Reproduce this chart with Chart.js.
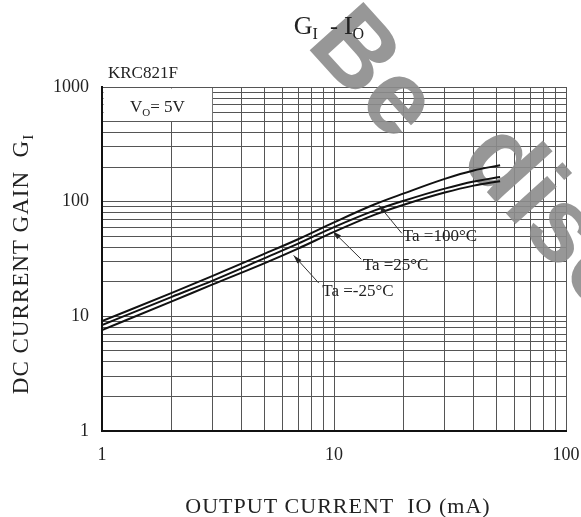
<!DOCTYPE html>
<html>
<head>
<meta charset="utf-8">
<script src="https://cdn.jsdelivr.net/npm/chart.js@4"></script>
<style>
  html, body { margin: 0; padding: 0; background: #fff; }
  canvas { display: block; }
</style>
</head>
<body>
<canvas id="giChart" width="581" height="517"></canvas>
<script>
// output current (mA) where the curves were read
const currentMA = [1, 2, 3, 5, 7, 10, 15, 20, 30, 40, 52];
// DC current gain for each ambient temperature
const gain100 = [9.1, 16, 22.5, 35, 47, 66, 95, 118, 158, 187, 208];
const gain25 = [8.4, 14.8, 20.5, 32, 43, 60, 84, 102, 130, 150, 164];
const gainM25 = [7.6, 13.5, 19, 29, 39, 54.5, 77, 94, 120, 138, 151];

const seriesNames = ['Ta =100°C', 'Ta =25°C', 'Ta =-25°C'];

// log grid lines and the labelled decades
const xGrid = [1, 2, 3, 4, 5, 6, 7, 8, 9, 10, 20, 30, 40, 50, 60, 70, 80, 90, 100];
const yGrid = [1, 2, 3, 4, 5, 6, 7, 8, 9, 10, 20, 30, 40, 50, 60, 70, 80, 90,
    100, 200, 300, 400, 500, 600, 700, 800, 900, 1000];
const xLabels = [1, 10, 100];
const yLabels = [1, 10, 100, 1000];

// callouts: label position, leader start, arrow tip (data units)
const calloutLabel = [[19.8, 50], [13.3, 28], [8.9, 16.3]];
const calloutFrom = [[19.6, 53], [13.1, 31.5], [8.6, 19.5]];
const calloutTip = [[15.6, 93], [9.9, 55], [6.7, 34]];

const serif = '"Liberation Serif", "DejaVu Serif", serif';

function toPoints(ys) {
    return currentMA.map((x, i) => ({x: x, y: ys[i]}));
}

function curve(label, ys) {
    return {
        label: label,
        data: toPoints(ys),
        borderColor: '#111',
        borderWidth: 2,
        pointRadius: 0,
        fill: false,
        cubicInterpolationMode: 'monotone'
    };
}

// text with subscripts: parts = [text, size, dy]
function drawParts(ctx, parts, x, y) {
    let cx = x;
    parts.forEach(p => {
        ctx.font = p[1] + 'px ' + serif;
        ctx.fillText(p[0], cx, y + p[2]);
        cx += ctx.measureText(p[0]).width;
    });
}

function partsWidth(ctx, parts) {
    let w = 0;
    parts.forEach(p => {
        ctx.font = p[1] + 'px ' + serif;
        w += ctx.measureText(p[0]).width;
    });
    return w;
}

const boxPlugin = {
    id: 'voBox',
    beforeDatasetsDraw(chart) {
        const {ctx, chartArea, scales} = chart;
        const right = scales.x.getPixelForValue(3);
        const bottom = scales.y.getPixelForValue(500);
        ctx.save();
        ctx.fillStyle = '#fff';
        ctx.fillRect(chartArea.left + 1.5, chartArea.top + 1.5,
            right - chartArea.left - 2, bottom - chartArea.top - 2);
        ctx.fillStyle = '#222';
        ctx.textBaseline = 'alphabetic';
        drawParts(ctx, [['V', 17, 0], ['O', 11, 4], ['= 5V', 17, 0]], chartArea.left + 28, chartArea.top + 25);

        // watermark, under the curves and texts
        ctx.font = 'bold 105px "Liberation Sans", Arial, sans-serif';
        ctx.fillStyle = 'rgba(140,140,140,0.9)';
        ctx.save();
        ctx.translate(305, 45);
        ctx.rotate(48 * Math.PI / 180);
        ctx.fillText('Be', 0, 0);
        ctx.restore();
        ctx.save();
        ctx.translate(458, 160);
        ctx.rotate(48 * Math.PI / 180);
        ctx.fillText('discontinued', 0, 0);
        ctx.restore();
        ctx.restore();
    }
};

const textPlugin = {
    id: 'texts',
    afterDraw(chart) {
        const {ctx, chartArea, scales} = chart;
        ctx.save();
        ctx.fillStyle = '#222';
        ctx.strokeStyle = '#333';
        ctx.textBaseline = 'alphabetic';

        // title
        const title = [['G', 26, 0], ['I', 16, 5], ['  - ', 24, 0], ['I', 26, 0], ['O', 16, 5]];
        drawParts(ctx, title, 329 - partsWidth(ctx, title) / 2, 34);

        // device name
        ctx.font = '17px ' + serif;
        ctx.fillText('KRC821F', chartArea.left + 6, chartArea.top - 9);

        // x title
        ctx.font = '22px ' + serif;
        ctx.letterSpacing = '1px';
        ctx.textAlign = 'center';
        ctx.fillText('OUTPUT CURRENT  IO (mA)', 338, 513);
        ctx.textAlign = 'left';

        // y title
        ctx.save();
        ctx.translate(28, 264);
        ctx.rotate(-Math.PI / 2);
        const yt = [['DC CURRENT GAIN  G', 23, 0], ['I', 15, 5]];
        drawParts(ctx, yt, -partsWidth(ctx, yt) / 2, 0);
        ctx.restore();
        ctx.letterSpacing = '0px';

        // callouts
        ctx.lineWidth = 1;
        calloutLabel.forEach((pos, i) => {
            const lx = scales.x.getPixelForValue(pos[0]);
            const ly = scales.y.getPixelForValue(pos[1]);
            const fx = scales.x.getPixelForValue(calloutFrom[i][0]);
            const fy = scales.y.getPixelForValue(calloutFrom[i][1]);
            const tx = scales.x.getPixelForValue(calloutTip[i][0]);
            const ty = scales.y.getPixelForValue(calloutTip[i][1]);
            ctx.beginPath();
            ctx.moveTo(fx, fy);
            ctx.lineTo(tx, ty);
            ctx.stroke();
            const a = Math.atan2(ty - fy, tx - fx);
            ctx.beginPath();
            ctx.moveTo(tx, ty);
            ctx.lineTo(tx - 9 * Math.cos(a - 0.3), ty - 9 * Math.sin(a - 0.3));
            ctx.lineTo(tx - 9 * Math.cos(a + 0.3), ty - 9 * Math.sin(a + 0.3));
            ctx.closePath();
            ctx.fill();
            ctx.font = '17px ' + serif;
            ctx.textBaseline = 'middle';
            ctx.fillText(seriesNames[i], lx, ly);
            ctx.textBaseline = 'alphabetic';
        });

        ctx.restore();
    }
};

function logAxis(min, max, grid, labels, fitKey, fitSize) {
    return {
        type: 'logarithmic',
        min: min,
        max: max,
        afterBuildTicks(scale) {
            scale.ticks = grid.map(v => ({value: v}));
        },
        afterFit(scale) {
            scale[fitKey] = fitSize;
            // keep tick-label overhang from shrinking the plot
            scale.paddingLeft = 0;
            scale.paddingRight = 0;
            scale.paddingTop = 0;
            scale.paddingBottom = 0;
        },
        border: {display: true, color: '#111', width: 2},
        grid: {
            color: '#555',
            lineWidth: 1,
            drawTicks: false
        },
        ticks: {
            autoSkip: false,
            maxRotation: 0,
            padding: 13,
            color: '#222',
            font: {family: serif, size: 18},
            callback: v => labels.includes(v) ? String(v) : ''
        }
    };
}

new Chart(document.getElementById('giChart'), {
    type: 'line',
    data: {
        datasets: [curve(seriesNames[0], gain100), curve(seriesNames[1], gain25), curve(seriesNames[2], gainM25)]
    },
    options: {
        responsive: false,
        animation: false,
        layout: {padding: {top: 87, right: 15, left: 0, bottom: 0}},
        plugins: {
            legend: {display: false},
            tooltip: {enabled: false}
        },
        scales: {
            x: logAxis(1, 100, xGrid, xLabels, 'height', 86),
            y: logAxis(1, 1000, yGrid, yLabels, 'width', 102)
        }
    },
    plugins: [boxPlugin, textPlugin]
});
</script>
</body>
</html>
